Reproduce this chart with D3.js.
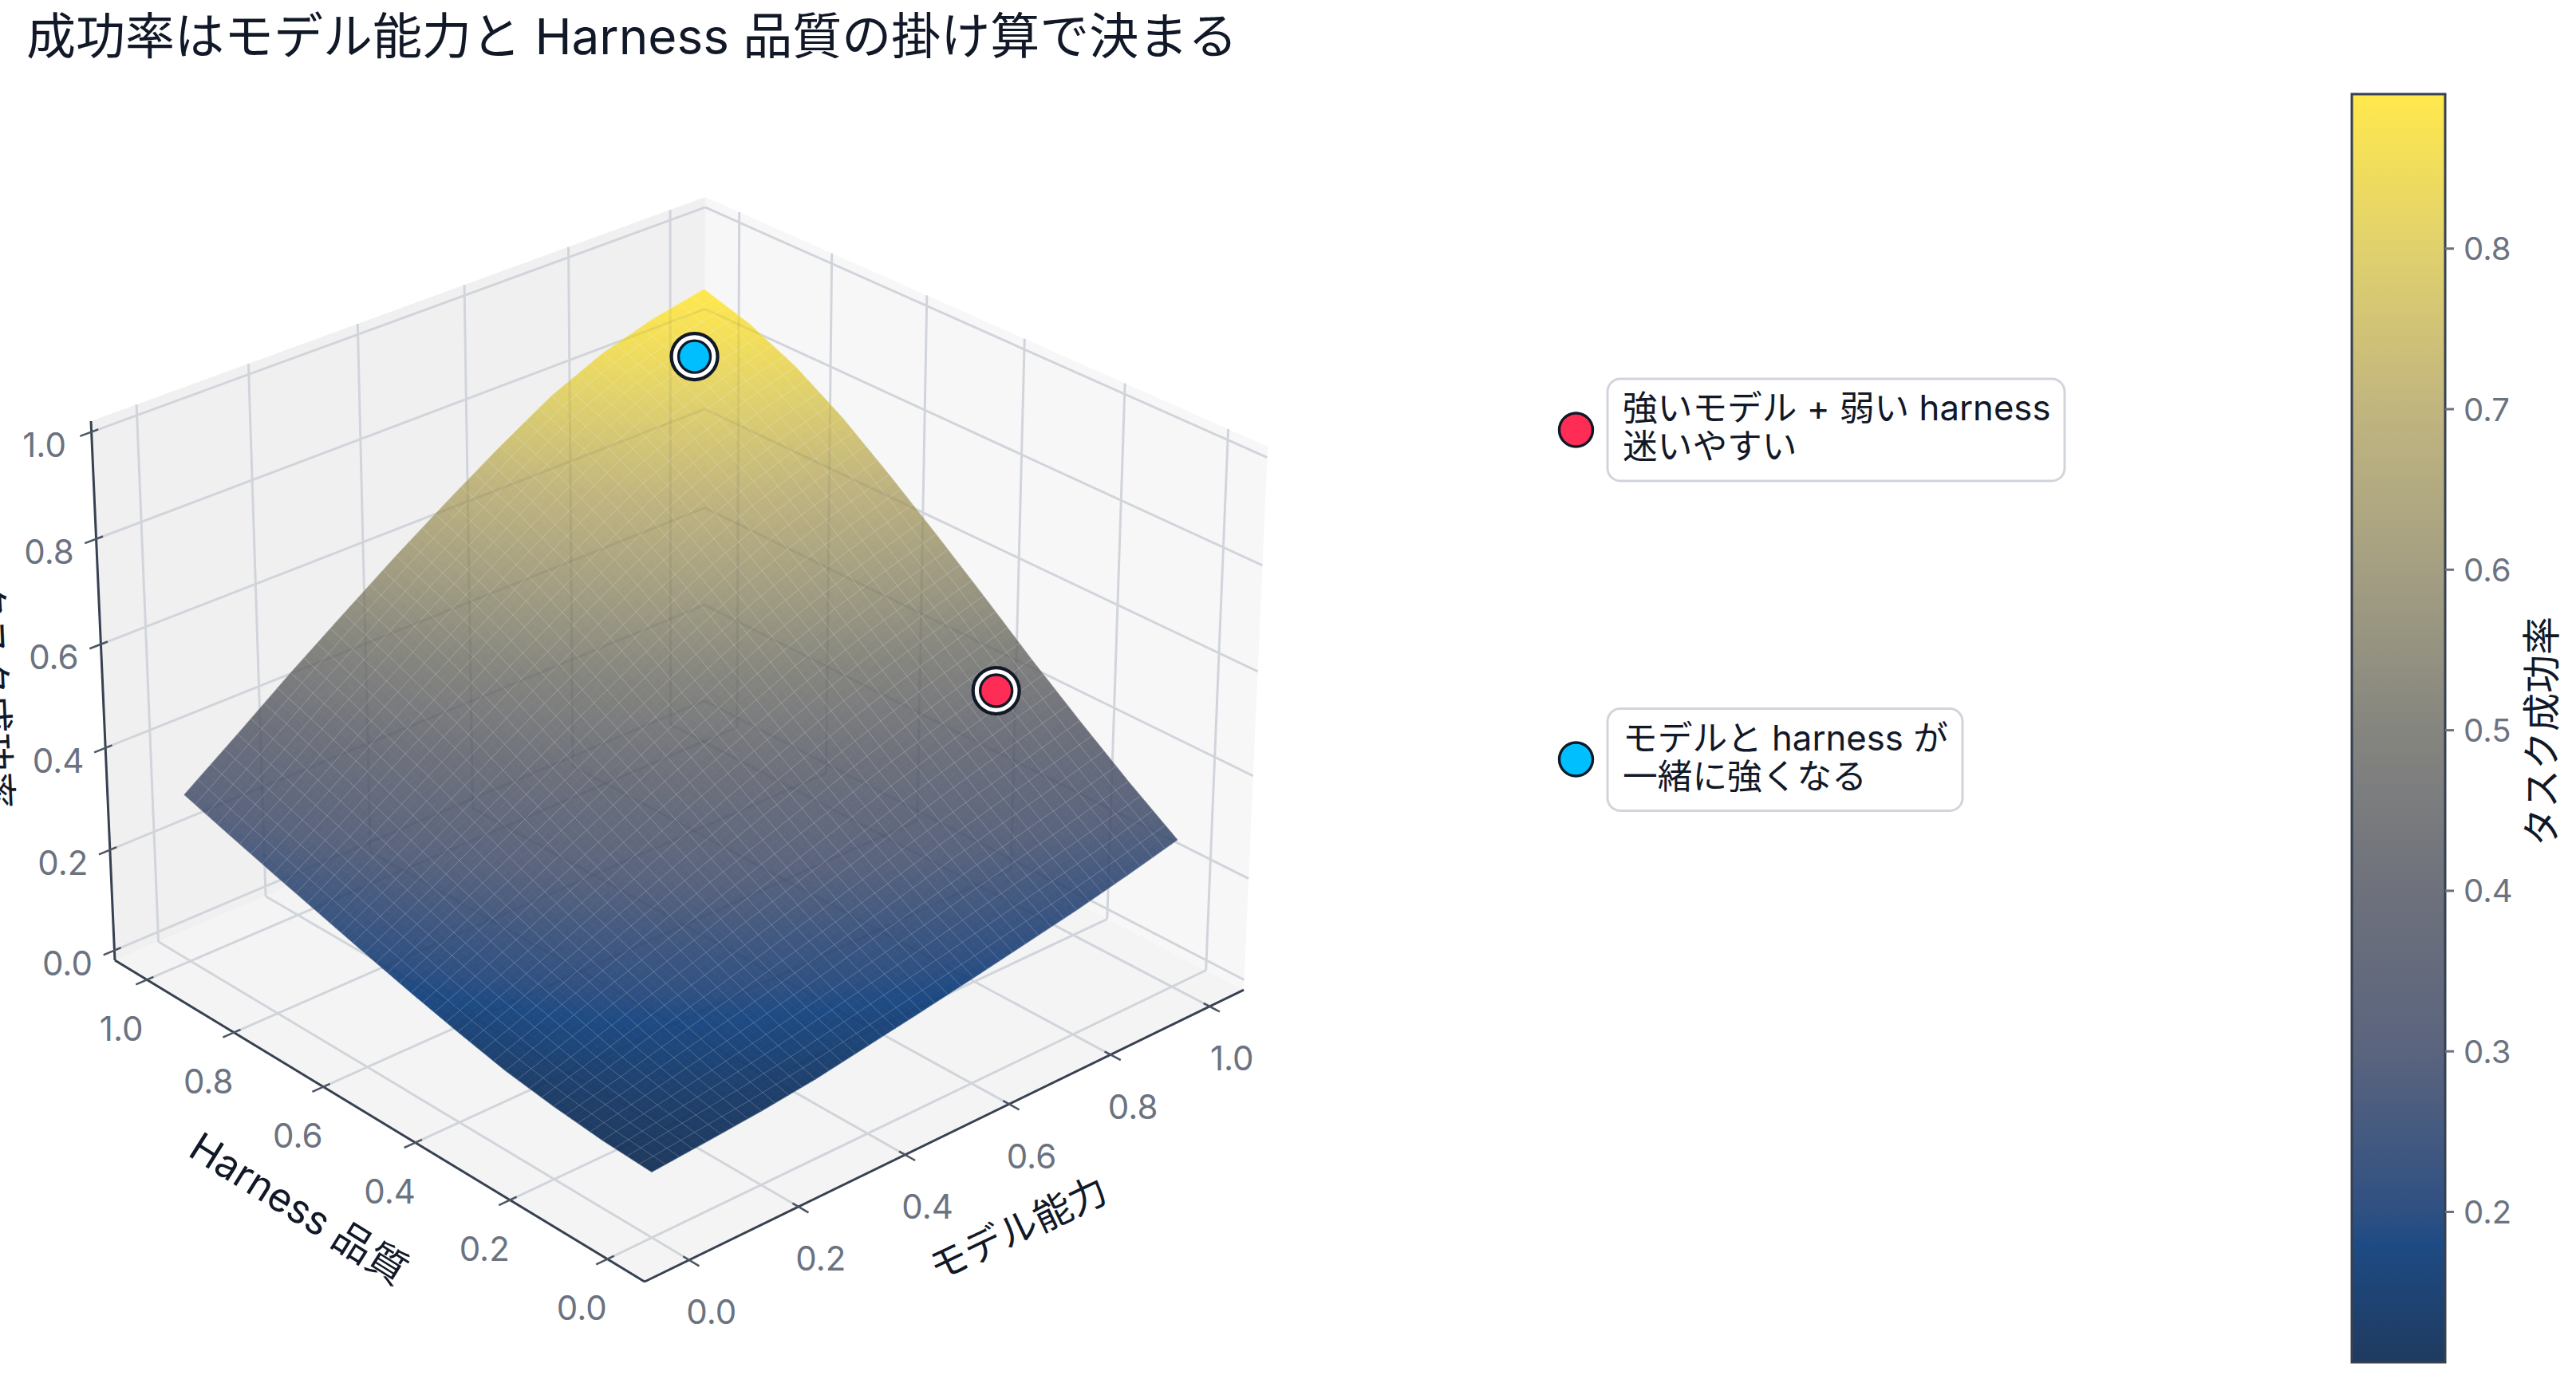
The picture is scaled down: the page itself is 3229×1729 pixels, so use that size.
<!DOCTYPE html>
<html lang="ja">
<head>
<meta charset="utf-8">
<script src="https://cdn.jsdelivr.net/npm/d3@7"></script>
<style>
  html, body { margin: 0; background: #fff; }
  svg { display: block; }
  text { font-family: Inter, "Noto Sans CJK JP", sans-serif; }
</style>
</head>
<body>
<div id="chart"></div>
<script>
// values
var modelLevels = [0, 0.1, 0.2, 0.3, 0.4, 0.5, 0.6, 0.7, 0.8, 0.9, 1];
var harnessLevels = [0, 0.1, 0.2, 0.3, 0.4, 0.5, 0.6, 0.7, 0.8, 0.9, 1];
// one row per harness level, one column per model level
var successRate = [
  [0.105, 0.113, 0.122, 0.134, 0.151, 0.168, 0.186, 0.205, 0.224, 0.246, 0.270],
  [0.110, 0.128, 0.146, 0.166, 0.188, 0.212, 0.236, 0.261, 0.285, 0.309, 0.335],
  [0.120, 0.146, 0.176, 0.204, 0.233, 0.262, 0.292, 0.323, 0.351, 0.378, 0.405],
  [0.134, 0.172, 0.210, 0.246, 0.283, 0.318, 0.353, 0.389, 0.421, 0.450, 0.478],
  [0.155, 0.197, 0.242, 0.287, 0.333, 0.376, 0.417, 0.458, 0.494, 0.526, 0.555],
  [0.178, 0.227, 0.278, 0.330, 0.382, 0.433, 0.481, 0.527, 0.567, 0.600, 0.630],
  [0.203, 0.258, 0.316, 0.374, 0.432, 0.489, 0.543, 0.594, 0.637, 0.672, 0.702],
  [0.229, 0.291, 0.356, 0.419, 0.483, 0.544, 0.604, 0.659, 0.705, 0.741, 0.770],
  [0.255, 0.323, 0.393, 0.461, 0.530, 0.595, 0.657, 0.716, 0.763, 0.798, 0.826],
  [0.282, 0.354, 0.429, 0.500, 0.571, 0.638, 0.703, 0.763, 0.810, 0.843, 0.868],
  [0.310, 0.385, 0.462, 0.535, 0.607, 0.675, 0.740, 0.800, 0.845, 0.875, 0.895]
];
var axisTicks = [0, 0.2, 0.4, 0.6, 0.8, 1];
var colorbarTicks = [0.2, 0.3, 0.4, 0.5, 0.6, 0.7, 0.8];
var colorStops = [0.105, 0.18, 0.2, 0.3, 0.4, 0.5, 0.6, 0.7, 0.8, 0.895];
var colorValues = ["#1f3a5f", "#1e4b84", "#2f5082", "#5a647e", "#6e717c", "#85857f", "#a49f82", "#c1b57f", "#e0d16d", "#ffe84d"];

var pointModel = [0.9, 0.895];
var pointHarness = [0.27, 0.905];
var pointRate = [0.473, 0.842];
var pointColors = ["#ff2d55", "#00bfff"];
var noteLines = [["強いモデル + 弱い harness", "迷いやすい"], ["モデルと harness が", "一緒に強くなる"]];

var titleText = "成功率はモデル能力と Harness 品質の掛け算で決まる";
var modelTitle = "モデル能力";
var harnessTitle = "Harness 品質";
var rateTitle = "タスク成功率";

var width = 3229, height = 1729;
var inkColor = "#111827", tickColor = "#6b7280", gridColor = "#d1d5db", axisColor = "#374151";

var x = d3.scaleLinear().domain([-0.08, 1.07]).range([0, 1]);
var y = d3.scaleLinear().domain([-0.075, 1.075]).range([0, 1]);
var z = d3.scaleLinear().domain([-0.02, 1.02]).range([0, 1]);
var color = d3.scaleLinear().domain(colorStops).range(colorValues);

// perspective camera of the scene, fitted to the corners of the box
var camera = [
  [866.5, -651.9, -37.5, 808],
  [-274, -301.6, -756.1, 1607],
  [0.0741, 0.0842, -0.0439, 1]
];

function project(mx, hy, rz) {
  var p = [x(mx), y(hy), z(rz), 1];
  var c = camera.map(function(row) { return d3.sum(row, function(v, i) { return v * p[i]; }); });
  return [c[0] / c[2], c[1] / c[2]];
}

function rateAt(mx, hy) {
  var i = Math.min(d3.bisectRight(modelLevels, mx) - 1, modelLevels.length - 2);
  var j = Math.min(d3.bisectRight(harnessLevels, hy) - 1, harnessLevels.length - 2);
  var s = (mx - modelLevels[i]) / (modelLevels[i + 1] - modelLevels[i]);
  var t = (hy - harnessLevels[j]) / (harnessLevels[j + 1] - harnessLevels[j]);
  return (1 - t) * ((1 - s) * successRate[j][i] + s * successRate[j][i + 1]) +
    t * ((1 - s) * successRate[j + 1][i] + s * successRate[j + 1][i + 1]);
}

var line = d3.line();
var xMin = x.domain()[0], xMax = x.domain()[1];
var yMin = y.domain()[0], yMax = y.domain()[1];
var zMin = z.domain()[0], zMax = z.domain()[1];

var svg = d3.select("#chart").append("svg").attr("width", width).attr("height", height);

svg.append("text").attr("x", 33).attr("y", 68).attr("font-size", 62).attr("fill", inkColor).text(titleText);

// walls and floor
var planes = [
  { fill: "#f0f0f0", pts: [[xMin, yMax, zMin], [xMax, yMax, zMin], [xMax, yMax, zMax], [xMin, yMax, zMax]] },
  { fill: "#f7f7f7", pts: [[xMax, yMin, zMin], [xMax, yMax, zMin], [xMax, yMax, zMax], [xMax, yMin, zMax]] },
  { fill: "#f4f4f4", pts: [[xMin, yMin, zMin], [xMax, yMin, zMin], [xMax, yMax, zMin], [xMin, yMax, zMin]] }
];
var scene = svg.append("g").attr("class", "scene");
scene.selectAll("path.plane").data(planes).enter().append("path")
  .attr("class", "plane")
  .attr("fill", function(d) { return d.fill; })
  .attr("d", function(d) { return line(d.pts.map(function(p) { return project(p[0], p[1], p[2]); })) + "Z"; });

// grid lines of the three planes
var gridLines = [];
axisTicks.forEach(function(t) {
  gridLines.push([[t, yMax, zMin], [t, yMax, zMax]]);
  gridLines.push([[t, yMin, zMin], [t, yMax, zMin]]);
  gridLines.push([[xMax, t, zMin], [xMax, t, zMax]]);
  gridLines.push([[xMin, t, zMin], [xMax, t, zMin]]);
  gridLines.push([[xMin, yMax, t], [xMax, yMax, t]]);
  gridLines.push([[xMax, yMin, t], [xMax, yMax, t]]);
});
function segment(d) {
  return line(d.map(function(p) { return project(p[0], p[1], p[2]); }));
}
scene.append("g").selectAll("path").data(gridLines).enter().append("path")
  .attr("d", segment).attr("fill", "none").attr("stroke", gridColor).attr("stroke-width", 3);

// axis lines and ticks
var axisLines = [
  [[xMin, yMin, zMin], [xMax, yMin, zMin]],
  [[xMin, yMin, zMin], [xMin, yMax, zMin]],
  [[xMin, yMax, zMin], [xMin, yMax, zMax]]
];
scene.append("g").selectAll("path").data(axisLines).enter().append("path")
  .attr("d", segment).attr("fill", "none").attr("stroke", axisColor).attr("stroke-width", 3);

var tickOut = 0.02, tickIn = 0.012;
var fmt = d3.format(".1f");
var tickMarks = [];
var tickLabels = [];
axisTicks.forEach(function(t) {
  tickMarks.push([[t, yMin - tickOut, zMin], [t, yMin + tickIn, zMin]]);
  tickMarks.push([[xMin - tickOut, t, zMin], [xMin + tickIn, t, zMin]]);
  tickMarks.push([[xMin - tickOut, yMax, t], [xMin + tickIn, yMax, t]]);
  var a = project(t, yMin, zMin), b = project(xMin, t, zMin), c = project(xMin, yMax, t);
  tickLabels.push({ t: t, x: a[0] + 28, y: a[1] + 65 });
  tickLabels.push({ t: t, x: b[0] - 32, y: b[1] + 61 });
  tickLabels.push({ t: t, x: c[0] - 59, y: c[1] + 16 });
});
scene.append("g").selectAll("path").data(tickMarks).enter().append("path")
  .attr("d", segment).attr("fill", "none").attr("stroke", "#4b5563").attr("stroke-width", 2.5);
scene.append("g").selectAll("text").data(tickLabels).enter().append("text")
  .attr("x", function(d) { return d.x; })
  .attr("y", function(d) { return d.y; })
  .attr("text-anchor", "middle").attr("dominant-baseline", "central")
  .attr("font-size", 42).attr("fill", tickColor)
  .text(function(d) { return fmt(d.t); });

// surface, painted from the back corner forward
var meshSteps = 40, paintSteps = 80;
var xFirst = modelLevels[0], xLast = modelLevels[modelLevels.length - 1];
var yFirst = harnessLevels[0], yLast = harnessLevels[harnessLevels.length - 1];
var paintX = d3.range(paintSteps + 1).map(function(k) { return xFirst + (xLast - xFirst) * k / paintSteps; });
var paintY = d3.range(paintSteps + 1).map(function(k) { return yFirst + (yLast - yFirst) * k / paintSteps; });
var cells = [];
d3.range(paintSteps).forEach(function(j) {
  d3.range(paintSteps).forEach(function(i) { cells.push({ i: i, j: j }); });
});
cells.sort(function(a, b) { return (b.i + b.j) - (a.i + a.j); });

function surfacePoint(mx, hy) { return project(mx, hy, rateAt(mx, hy)); }

var surface = scene.append("g").attr("class", "surface");
surface.selectAll("path").data(cells).enter().append("path")
  .attr("d", function(c) {
    return line([
      surfacePoint(paintX[c.i], paintY[c.j]),
      surfacePoint(paintX[c.i + 1], paintY[c.j]),
      surfacePoint(paintX[c.i + 1], paintY[c.j + 1]),
      surfacePoint(paintX[c.i], paintY[c.j + 1])
    ]) + "Z";
  })
  .each(function(c) {
    var col = color(rateAt((paintX[c.i] + paintX[c.i + 1]) / 2, (paintY[c.j] + paintY[c.j + 1]) / 2));
    d3.select(this).attr("fill", col).attr("stroke", col).attr("stroke-width", 0.8);
  });

// outline of the surface, the grid shows through it as a faint dark band
var outline = [];
paintX.forEach(function(v) { outline.push(surfacePoint(v, yFirst)); });
paintY.forEach(function(v) { outline.push(surfacePoint(xLast, v)); });
paintX.slice().reverse().forEach(function(v) { outline.push(surfacePoint(v, yLast)); });
paintY.slice().reverse().forEach(function(v) { outline.push(surfacePoint(xFirst, v)); });
svg.append("clipPath").attr("id", "surface-clip").append("path").attr("d", line(outline) + "Z");
scene.append("g").attr("clip-path", "url(#surface-clip)")
  .selectAll("path").data(gridLines).enter().append("path")
  .attr("d", segment).attr("fill", "none").attr("stroke", "#1f2937")
  .attr("stroke-opacity", 0.07).attr("stroke-width", 3);

// mesh lines
var meshLines = [];
d3.range(meshSteps + 1).forEach(function(k) {
  var fx = xFirst + (xLast - xFirst) * k / meshSteps;
  var fy = yFirst + (yLast - yFirst) * k / meshSteps;
  meshLines.push(paintY.map(function(v) { return surfacePoint(fx, v); }));
  meshLines.push(paintX.map(function(v) { return surfacePoint(v, fy); }));
});
scene.append("g").selectAll("path").data(meshLines).enter().append("path")
  .attr("d", line).attr("fill", "none").attr("stroke", "#fff")
  .attr("stroke-opacity", 0.2).attr("stroke-width", 1);

// axis titles
svg.append("text").attr("transform", "translate(1276,1540) rotate(-25.4)")
  .attr("text-anchor", "middle").attr("dominant-baseline", "central")
  .attr("font-size", 48).attr("fill", inkColor).text(modelTitle);
svg.append("text").attr("transform", "translate(375,1515) rotate(32)")
  .attr("text-anchor", "middle").attr("dominant-baseline", "central")
  .attr("font-size", 50).attr("fill", inkColor).text(harnessTitle);
svg.append("text").attr("transform", "translate(-8,871) rotate(87.5)")
  .attr("text-anchor", "middle").attr("dominant-baseline", "central")
  .attr("font-size", 48).attr("fill", inkColor).text(rateTitle);

// markers
var points = pointModel.map(function(m, i) {
  var p = project(m, pointHarness[i], pointRate[i]);
  return { x: p[0], y: p[1], fill: pointColors[i] };
});
var marks = svg.append("g").selectAll("g").data(points).enter().append("g")
  .attr("transform", function(d) { return "translate(" + d.x + "," + d.y + ")"; });
marks.append("circle").attr("r", 29).attr("fill", "#fff").attr("stroke", inkColor).attr("stroke-width", 4.3);
marks.append("circle").attr("r", 20).attr("fill", function(d) { return d.fill; }).attr("stroke", inkColor).attr("stroke-width", 3.4);

// notes next to the chart
var noteBoxes = [
  { y: 475, w: 573, cy: 539 },
  { y: 888.5, w: 445, cy: 952 }
];
var notes = svg.append("g").selectAll("g").data(noteBoxes).enter().append("g");
notes.append("circle")
  .attr("cx", 1975.5).attr("cy", function(d) { return d.cy; }).attr("r", 21)
  .attr("fill", function(d, i) { return pointColors[i]; })
  .attr("stroke", inkColor).attr("stroke-width", 3.4);
notes.append("rect")
  .attr("x", 2015).attr("y", function(d) { return d.y; })
  .attr("width", function(d) { return d.w; }).attr("height", 128)
  .attr("rx", 16).attr("fill", "#fff").attr("stroke", gridColor).attr("stroke-width", 3);
notes.each(function(d, i) {
  d3.select(this).selectAll("text").data(noteLines[i]).enter().append("text")
    .attr("x", 2034)
    .attr("y", function(t, k) { return d.y + 52 + k * 48; })
    .attr("font-size", 43.7).attr("fill", inkColor)
    .text(function(t) { return t; });
});

// colorbar
var barTop = 118, barBottom = 1708, barLeft = 2948, barRight = 3065;
var tickY = d3.scaleLinear().domain([0.2, 0.8]).range([1519.5, 311.7]);
var barDomain = [tickY.invert(barBottom), tickY.invert(barTop)];
var grad = svg.append("defs").append("linearGradient").attr("id", "bar-grad")
  .attr("x1", 0).attr("x2", 0).attr("y1", 1).attr("y2", 0);
grad.selectAll("stop").data(colorStops).enter().append("stop")
  .attr("offset", function(d) { return (d - barDomain[0]) / (barDomain[1] - barDomain[0]); })
  .attr("stop-color", function(d) { return color(d); });
svg.append("rect").attr("x", barLeft).attr("y", barTop)
  .attr("width", barRight - barLeft).attr("height", barBottom - barTop)
  .attr("fill", "url(#bar-grad)").attr("stroke", axisColor).attr("stroke-width", 3);
var barTicks = svg.append("g").selectAll("g").data(colorbarTicks).enter().append("g")
  .attr("transform", function(d) { return "translate(0," + tickY(d) + ")"; });
barTicks.append("line").attr("x1", barRight).attr("x2", barRight + 11)
  .attr("stroke", tickColor).attr("stroke-width", 3);
barTicks.append("text").attr("x", 3088).attr("dominant-baseline", "central")
  .attr("font-size", 40).attr("fill", tickColor).text(function(d) { return fmt(d); });
svg.append("text").attr("transform", "translate(3185,917) rotate(-90)")
  .attr("text-anchor", "middle").attr("dominant-baseline", "central")
  .attr("font-size", 48).attr("fill", inkColor).text(rateTitle);
</script>
</body>
</html>
